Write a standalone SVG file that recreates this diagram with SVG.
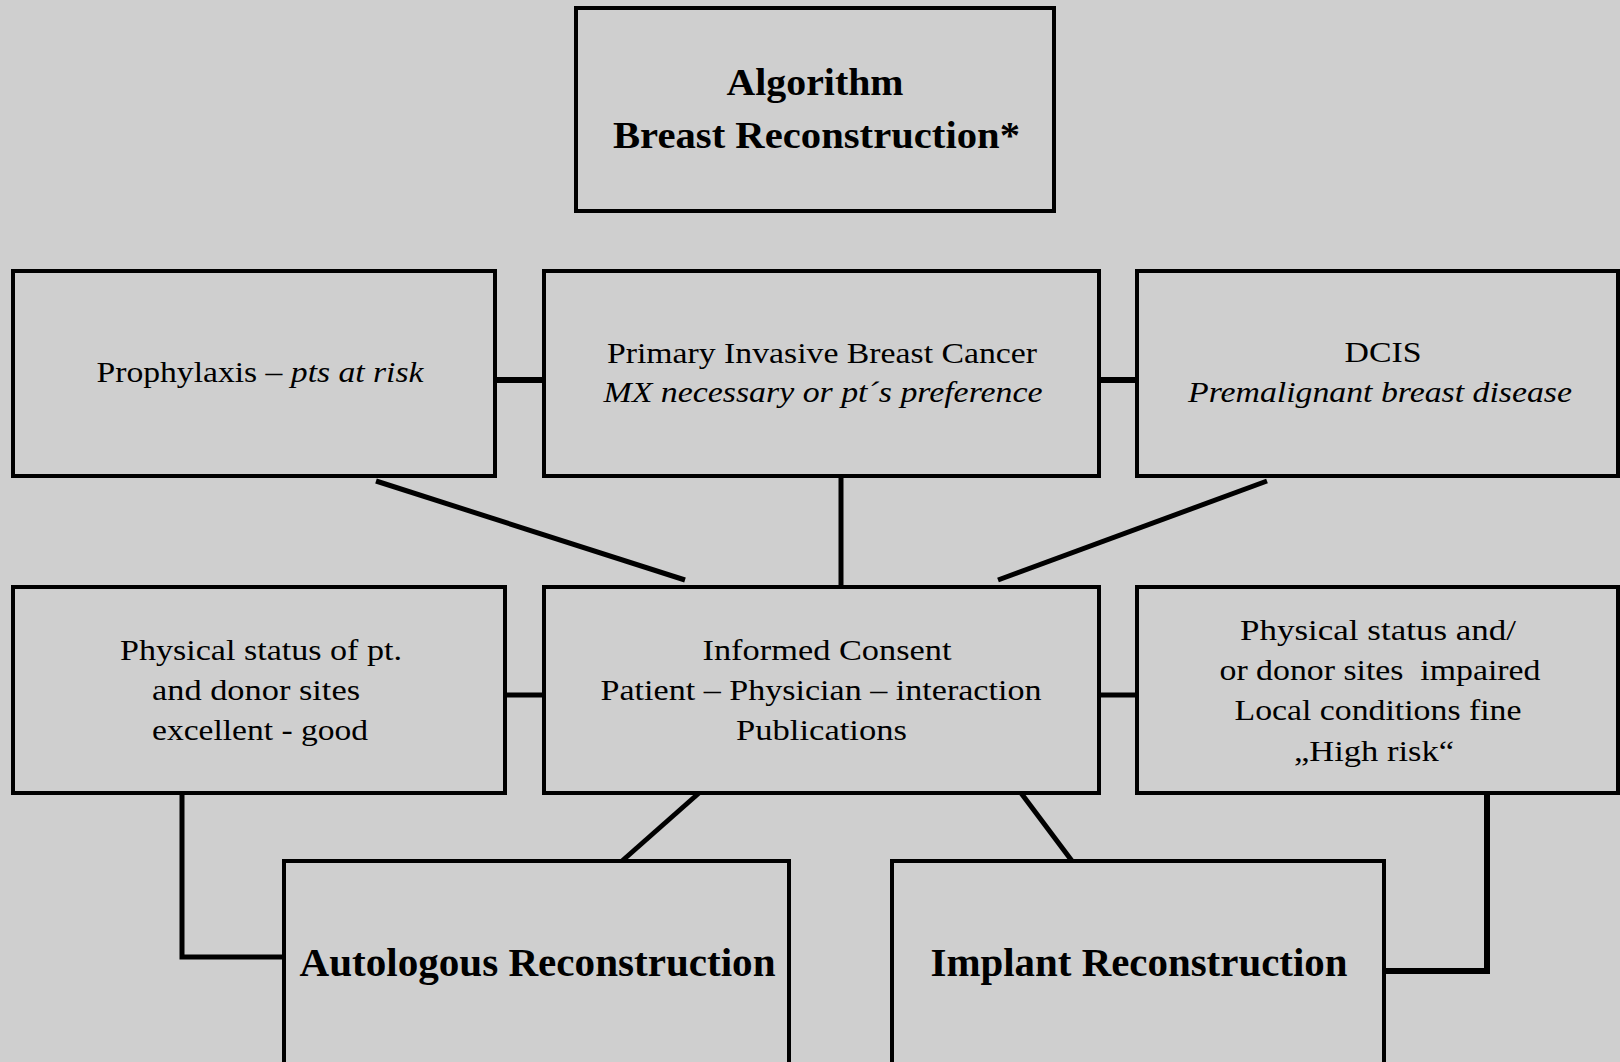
<svg xmlns="http://www.w3.org/2000/svg" width="1620" height="1062" viewBox="0 0 1620 1062">
<style>
.box{fill:#cfcfcf;stroke:#000;stroke-width:4}
.con{stroke:#000;stroke-width:5;fill:none;stroke-linecap:butt}
text{font-family:"Liberation Serif","DejaVu Serif",serif;fill:#000;text-anchor:middle}
.t{font-size:30px}
.big{font-size:37px;font-weight:bold}
.bot{font-size:40px;font-weight:bold}
.i{font-style:italic}
</style>
<rect width="1620" height="1062" fill="#cfcfcf"/>
<g id="connectors">
<line class="con" x1="495" y1="380" x2="543" y2="380" style="stroke-width:6"/>
<line class="con" x1="1099" y1="380" x2="1137" y2="380" style="stroke-width:6"/>
<line class="con" x1="376" y1="481" x2="685" y2="580"/>
<line class="con" x1="841" y1="476" x2="841" y2="586"/>
<line class="con" x1="1267" y1="481" x2="998" y2="580"/>
<line class="con" x1="505" y1="695" x2="543" y2="695"/>
<line class="con" x1="1099" y1="695" x2="1137" y2="695"/>
<line class="con" x1="699" y1="793" x2="622" y2="861"/>
<line class="con" x1="1021" y1="793" x2="1072" y2="861"/>
<polyline class="con" points="182,792 182,957 284,957"/>
<polyline class="con" points="1487,792 1487,971 1384,971" style="stroke-width:6"/>
</g>
<g id="title">
<rect class="box" x="576" y="8" width="478" height="203"/>
<text class="big" x="815" y="95" textLength="177" lengthAdjust="spacingAndGlyphs">Algorithm</text>
<text class="big" x="816.5" y="148" textLength="407" lengthAdjust="spacingAndGlyphs">Breast Reconstruction*</text>
</g>
<g id="prophylaxis">
<rect class="box" x="13" y="271" width="482" height="205"/>
<text class="t" x="260" y="382" textLength="327" lengthAdjust="spacingAndGlyphs">Prophylaxis – <tspan class="i">pts at risk</tspan></text>
</g>
<g id="primary">
<rect class="box" x="544" y="271" width="555" height="205"/>
<text class="t" x="822" y="363" textLength="430" lengthAdjust="spacingAndGlyphs">Primary Invasive Breast Cancer</text>
<text class="t i" x="823" y="402" textLength="439" lengthAdjust="spacingAndGlyphs">MX necessary or pt´s preference</text>
</g>
<g id="dcis">
<rect class="box" x="1137" y="271" width="481" height="205"/>
<text class="t" x="1383" y="362" textLength="77" lengthAdjust="spacingAndGlyphs">DCIS</text>
<text class="t i" x="1380" y="402" textLength="384" lengthAdjust="spacingAndGlyphs">Premalignant breast disease</text>
</g>
<g id="physical-good">
<rect class="box" x="13" y="587" width="492" height="206"/>
<text class="t" x="261" y="660" textLength="282" lengthAdjust="spacingAndGlyphs">Physical status of pt.</text>
<text class="t" x="256" y="700" textLength="208" lengthAdjust="spacingAndGlyphs">and donor sites</text>
<text class="t" x="260" y="740" textLength="216" lengthAdjust="spacingAndGlyphs">excellent - good</text>
</g>
<g id="informed-consent">
<rect class="box" x="544" y="587" width="555" height="206"/>
<text class="t" x="827" y="660" textLength="249" lengthAdjust="spacingAndGlyphs">Informed Consent</text>
<text class="t" x="821" y="700" textLength="441" lengthAdjust="spacingAndGlyphs">Patient – Physician – interaction</text>
<text class="t" x="821.5" y="740" textLength="171" lengthAdjust="spacingAndGlyphs">Publications</text>
</g>
<g id="physical-impaired">
<rect class="box" x="1137" y="587" width="481" height="206"/>
<text class="t" x="1378" y="640" textLength="276" lengthAdjust="spacingAndGlyphs">Physical status and/</text>
<text class="t" x="1380" y="680" textLength="321" lengthAdjust="spacingAndGlyphs" style="white-space:pre">or donor sites  impaired</text>
<text class="t" x="1378" y="720" textLength="287" lengthAdjust="spacingAndGlyphs">Local conditions fine</text>
<text class="t" x="1374" y="761" textLength="160" lengthAdjust="spacingAndGlyphs">„High risk“</text>
</g>
<g id="autologous">
<rect class="box" x="284" y="861" width="505" height="215"/>
<text class="bot" x="537.5" y="976" textLength="476" lengthAdjust="spacingAndGlyphs">Autologous Reconstruction</text>
</g>
<g id="implant">
<rect class="box" x="892" y="861" width="492" height="215"/>
<text class="bot" x="1139" y="976" textLength="417" lengthAdjust="spacingAndGlyphs">Implant Reconstruction</text>
</g>
</svg>
